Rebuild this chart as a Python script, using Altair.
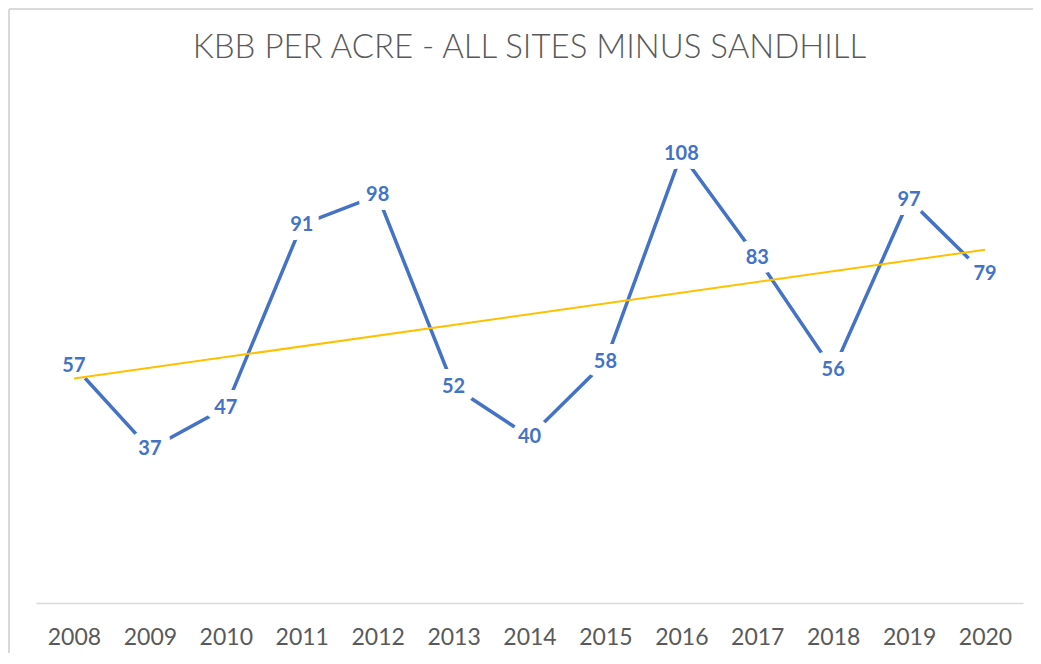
import altair as alt
import pandas as pd

years = [2008, 2009, 2010, 2011, 2012, 2013, 2014, 2015, 2016, 2017, 2018, 2019, 2020]
kbb = [57, 37, 47, 91, 98, 52, 40, 58, 108, 83, 56, 97, 79]
title_text = "KBB PER ACRE - ALL SITES MINUS SANDHILL"

df = pd.DataFrame({"year": years, "kbb": kbb})

W, H = 987, 499

x_enc = alt.X(
    "year:Q",
    scale=alt.Scale(domain=[2007.5, 2020.5], nice=False, zero=False),
    axis=alt.Axis(
        values=years, format="d", title=None, ticks=False, grid=False,
        domainColor="#d9d9d9", domainWidth=1.5,
        labelFont="Lato", labelFontSize=23, labelColor="#595959",
        labelPadding=23, labelFlush=False,
    ),
)
y_enc = alt.Y("kbb:Q", scale=alt.Scale(domain=[0, 120], nice=False), axis=None)

base = alt.Chart(df).encode(x=x_enc, y=y_enc)

line = base.mark_line(color="#4472C4", strokeWidth=3.5)
halo = base.mark_text(
    font="Lato", fontWeight="bold", fontSize=20, color="white",
    stroke="white", strokeWidth=18, strokeJoin="round",
    align="center", baseline="middle",
).encode(text="kbb:Q")
labels = base.mark_text(
    font="Lato", fontWeight="bold", fontSize=20, color="#4472C4",
    align="center", baseline="middle",
).encode(text="kbb:Q")
trend = base.transform_regression("year", "kbb", extent=[2008, 2020]).mark_line(
    color="#FFC000", strokeWidth=2
)

frame_left = alt.Chart(df).mark_rule(color="#d9d9d9", strokeWidth=2, clip=False).encode(
    x=alt.value(-27), y=alt.value(-95), y2=alt.value(H + 60)
)
frame_top = alt.Chart(df).mark_rule(color="#d9d9d9", strokeWidth=2, clip=False).encode(
    x=alt.value(-27), x2=alt.value(W + 20), y=alt.value(-95)
)

chart = (
    alt.layer(frame_left, frame_top, line, halo, labels, trend)
    .properties(
        width=W,
        height=H,
        autosize=alt.AutoSizeParams(type="none"),
        padding={"left": 28, "top": 96, "right": 10, "bottom": 50},
        title=alt.TitleParams(
            text=title_text, font="Lato", fontWeight=300, fontSize=33,
            color="#595959", anchor="middle", offset=-83, baseline="alphabetic",
        ),
    )
    .configure_view(stroke="transparent", strokeWidth=0)
)

chart.save("out.html", embed_options={"renderer": "svg", "actions": False})
